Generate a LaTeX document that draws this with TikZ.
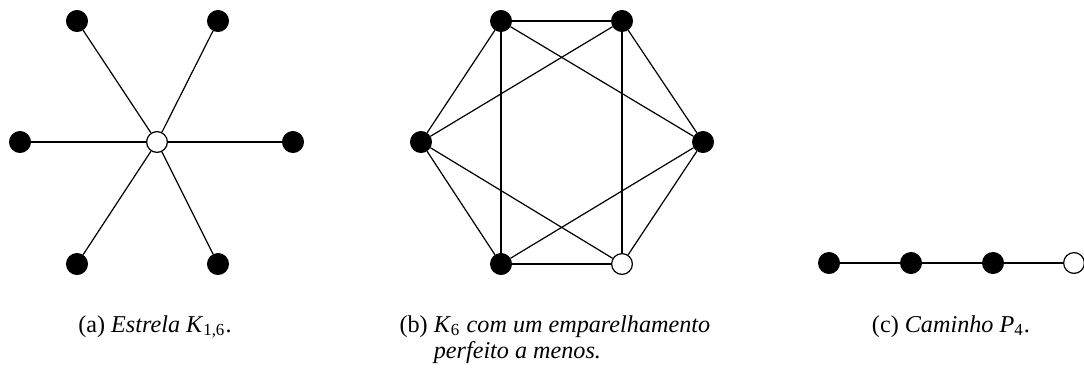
\documentclass[tikz,border=0pt]{standalone}
\usepackage{fontspec}
\setmainfont{Liberation Serif}
\tikzset{
	preto/.style={circle, draw, fill=black, minimum size=8.6pt, inner sep=0pt},
	branco/.style={circle, draw, fill=white, minimum size=8.6pt, inner sep=0pt},
	legenda/.style={anchor=base, inner sep=0pt, font=\fontsize{10}{12}\selectfont}
}

\begin{document}
\begin{tikzpicture}[x=0.4137pt, y=-0.4137pt, line width=0.5pt]
	\useasboundingbox (0,0) rectangle (1084,376);
%The star
	\node[branco] (c) at (157,142) {};
	\node[preto] (s1) at (77,21) {};
	\node[preto] (s2) at (218,21) {};
	\node[preto] (s3) at (20,142) {};
	\node[preto] (s4) at (293,142) {};
	\node[preto] (s5) at (77,264) {};
	\node[preto] (s6) at (218,264) {};
	\draw (c) -- (s1);
	\draw (c) -- (s2);
	\draw (c) -- (s3);
	\draw (c) -- (s4);
	\draw (c) -- (s5);
	\draw (c) -- (s6);
%K6 minus a perfect matching
	\node[preto] (ks) at (501,21) {};
	\node[preto] (kt) at (622,21) {};
	\node[preto] (ke) at (421,142) {};
	\node[preto] (kd) at (703,142) {};
	\node[preto] (ki) at (501,264) {};
	\node[branco] (kj) at (622,264) {};
	\draw (ks) -- (kt);
	\draw (ks) -- (ke);
	\draw (ks) -- (ki);
	\draw (ks) -- (kd);
	\draw (kt) -- (ke);
	\draw (kt) -- (kd);
	\draw (kt) -- (kj);
	\draw (ke) -- (ki);
	\draw (ke) -- (kj);
	\draw (kd) -- (ki);
	\draw (kd) -- (kj);
	\draw (ki) -- (kj);
%The path
	\node[preto] (p1) at (829,263) {};
	\node[preto] (p2) at (911,263) {};
	\node[preto] (p3) at (993,263) {};
	\node[branco] (p4) at (1074,263) {};
	\draw (p1) -- (p2);
	\draw (p2) -- (p3);
	\draw (p3) -- (p4);
%Captions
	\node[legenda] (la) at (155,332) {(a) \textit{Estrela K}\textsubscript{1,6}.};
	\node[legenda, anchor=base west] (lb) at (399,332)
		{\begin{tabular}[t]{@{}l@{\ }l@{}}
		(b) & \textit{K}\textsubscript{6} \textit{com um emparelhamento}\\[-1pt]
		& \textit{perfeito a menos.}
		\end{tabular}};
	\node[legenda] (lc) at (951,332) {(c) \textit{Caminho P}\textsubscript{4}.};
\end{tikzpicture}
\end{document}
